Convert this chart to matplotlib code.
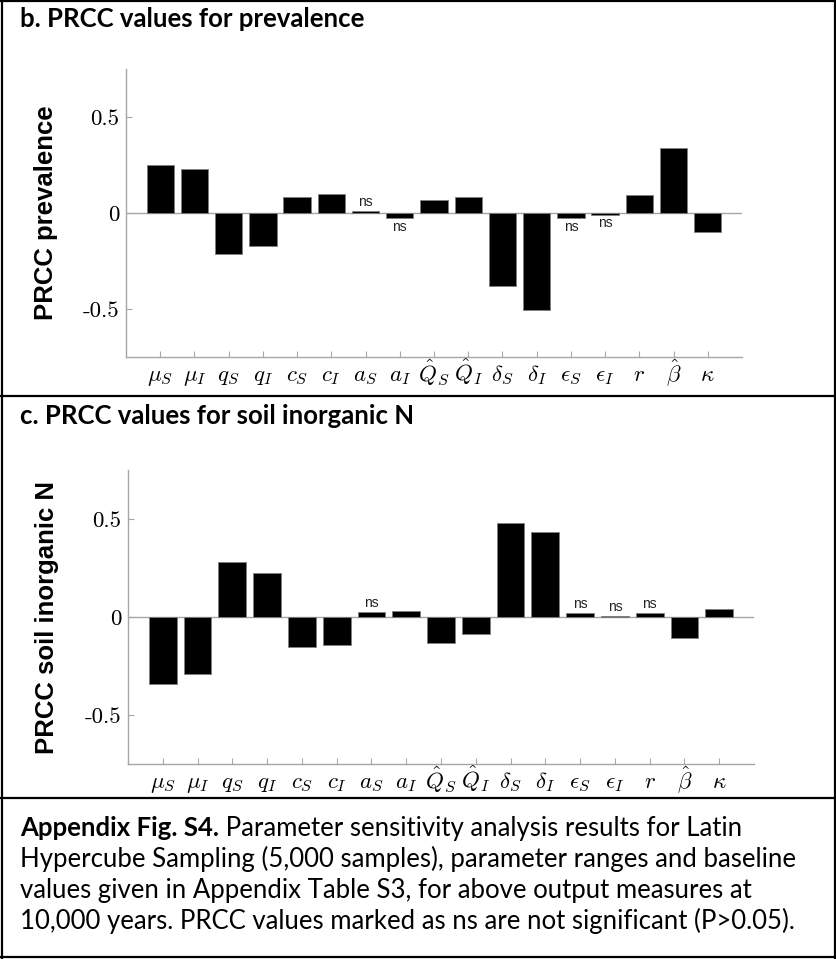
import matplotlib
matplotlib.use("Agg")
import matplotlib.pyplot as plt
from matplotlib.lines import Line2D

# parameter labels along the x axis
params = [r"$\mu_S$", r"$\mu_I$", r"$q_S$", r"$q_I$", r"$c_S$", r"$c_I$",
          r"$a_S$", r"$a_I$", r"$\hat{Q}_S$", r"$\hat{Q}_I$", r"$\delta_S$",
          r"$\delta_I$", r"$\epsilon_S$", r"$\epsilon_I$", r"$r$",
          r"$\hat{\beta}$", r"$\kappa$"]

# PRCC values, output: prevalence
prcc_prev = [0.252, 0.231, -0.214, -0.171, 0.081, 0.100, 0.010, -0.028, 0.067,
             0.081, -0.382, -0.506, -0.028, -0.010, 0.095, 0.340, -0.098]
ns_prev = [6, 7, 12, 13]

# PRCC values, output: soil inorganic N
prcc_soil = [-0.342, -0.291, 0.280, 0.224, -0.153, -0.144, 0.024, 0.032, -0.135,
             -0.085, 0.480, 0.432, 0.020, 0.003, 0.020, -0.107, 0.041]
ns_soil = [6, 12, 13, 14]

W, H = 837, 959
fig = plt.figure(figsize=(W / 100, H / 100), dpi=100)
plt.rcParams["mathtext.fontset"] = "cm"

AXC = "#a6a6a6"


def add_ax(l, t, r, b):
    return fig.add_axes([l / W, 1 - b / H, (r - l) / W, (b - t) / H])


def prcc_panel(ax, vals, ns_idx, ylabel):
    x = range(1, len(vals) + 1)
    ax.axhline(0, color=AXC, lw=1.0, zorder=1)
    ax.bar(x, vals, width=0.8, color="black", edgecolor="#7f7f7f", lw=0.6, zorder=2)
    for i in ns_idx:
        v = vals[i]
        if v >= 0:
            ax.annotate("ns", (i + 1, v), xytext=(0, 1.5), textcoords="offset points",
                        ha="center", va="bottom", fontsize=10,
                        family="Liberation Sans", color="#222222")
        else:
            ax.annotate("ns", (i + 1, v), xytext=(0, -1), textcoords="offset points",
                        ha="center", va="top", fontsize=10,
                        family="Liberation Sans", color="#222222")
    ax.set_xlim(0, 18)
    ax.set_ylim(-0.75, 0.75)
    ax.set_xticks(list(x))
    ax.set_xticklabels(params, fontsize=16.5, va="baseline")
    ax.set_yticks([-0.5, 0, 0.5])
    ax.set_yticklabels(["-0.5", "0", "0.5"], family="cmr10", fontsize=16.5)
    for s in ["top", "right"]:
        ax.spines[s].set_visible(False)
    for s in ["left", "bottom"]:
        ax.spines[s].set_color(AXC)
        ax.spines[s].set_linewidth(1.0)
    ax.tick_params(direction="in", length=4.5, width=0.8, color=AXC)
    ax.tick_params(axis="x", pad=17.5)
    ax.tick_params(axis="y", pad=5)
    ax.set_ylabel(ylabel, fontsize=18.5, fontweight="bold", family="Liberation Sans")
    ax.yaxis.set_label_coords(-68 / 616, 0.5)


ax_b = add_ax(126, 69, 742, 357)
prcc_panel(ax_b, prcc_prev, ns_prev, "PRCC prevalence")

ax_c = add_ax(128, 470, 754, 764)
prcc_panel(ax_c, prcc_soil, ns_soil, "PRCC soil inorganic N")

# table-style frame around the panels and the caption
for (x0, y0, x1, y1) in [(0, 1, W, 1), (2, 0, 2, H), (W - 2, 0, W - 2, H),
                         (0, 396, W, 396), (0, 798, W, 798), (0, H - 2, W, H - 2)]:
    fig.add_artist(Line2D([x0 / W, x1 / W], [1 - y0 / H, 1 - y1 / H],
                          color="black", lw=1.6, transform=fig.transFigure))


def ftext(x, y, s, **kw):
    return fig.text(x / W, 1 - y / H, s, va="baseline", family="Lato", **kw)


ftext(20, 27, "b. PRCC values for prevalence", fontsize=18.5, fontweight="bold")
ftext(20, 424, "c. PRCC values for soil inorganic N", fontsize=18.5, fontweight="bold")

renderer = fig.canvas.get_renderer()
lead = ftext(20, 836, "Appendix Fig. S4.", fontsize=18.5, fontweight="bold")
bb = lead.get_window_extent(renderer=renderer)
fig.text(bb.x1 / W, 1 - 836 / H, " Parameter sensitivity analysis results for Latin",
         va="baseline", family="Lato", fontsize=18.5)
caption = ["Hypercube Sampling (5,000 samples), parameter ranges and baseline",
           "values given in Appendix Table S3, for above output measures at",
           "10,000 years. PRCC values marked as ns are not significant (P>0.05)."]
for k, line in enumerate(caption):
    ftext(20, 867 + 31 * k, line, fontsize=18.5)

fig.savefig("out.png", dpi=100)
